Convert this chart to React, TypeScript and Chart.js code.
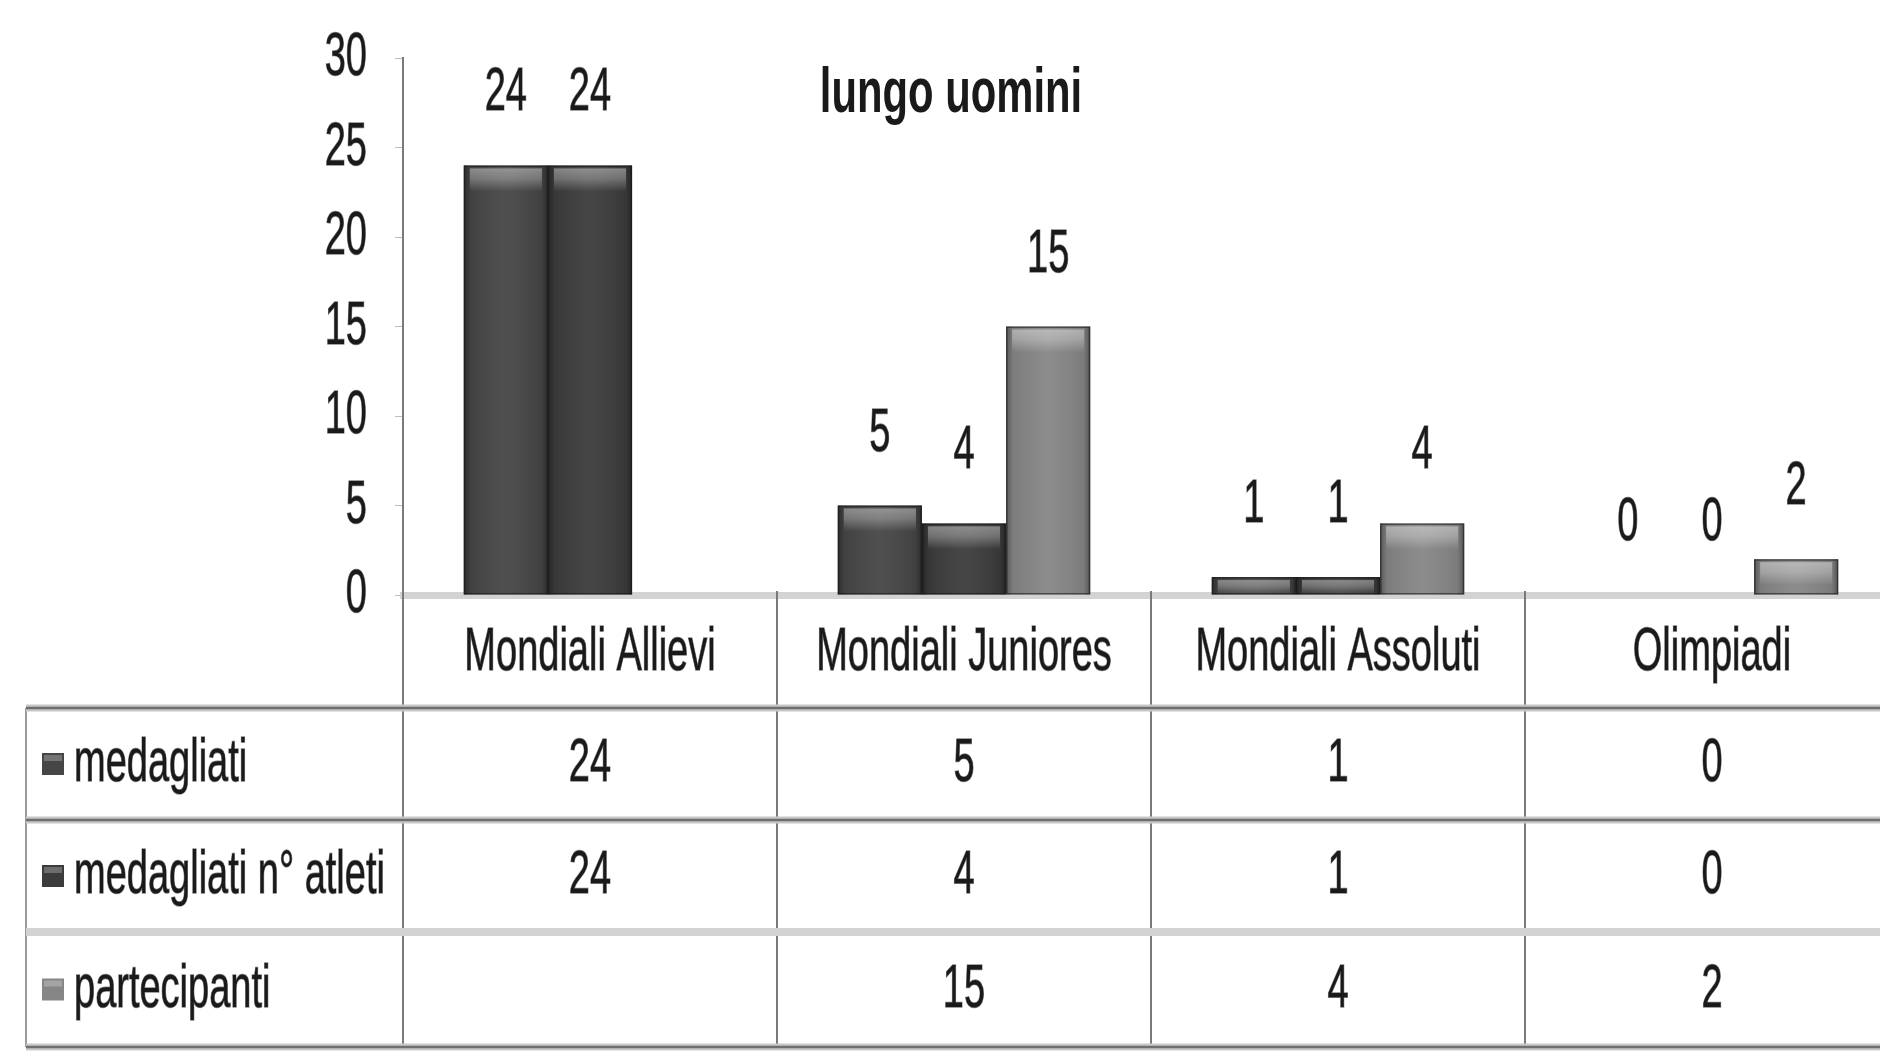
import React, { useEffect, useRef } from "react";
import { Chart, registerables } from "chart.js";

Chart.register(...registerables);

const categories = ["Mondiali Allievi", "Mondiali Juniores", "Mondiali Assoluti", "Olimpiadi"];
const seriesNames = ["medagliati", "medagliati n° atleti", "partecipanti"];
const medagliati = [24, 5, 1, 0];
const medagliatiAtleti = [24, 4, 1, 0];
const partecipanti: (number | null)[] = [null, 15, 4, 2];
const seriesColors = ["#464646", "#3c3c3c", "#868686"];
const chartTitle = "lungo uomini";
const yMin = 0;
const yMax = 30;
const yStep = 5;

const FONT = '"Liberation Sans", Arial, sans-serif';
const SX = 0.95;
const SY = 1.55;
const TEXT_COLOR = "#1a1a1a";

function txt(
  ctx: CanvasRenderingContext2D,
  s: string,
  x: number,
  y: number,
  size: number,
  align: CanvasTextAlign,
  bold = false,
  sy = SY
) {
  ctx.save();
  ctx.translate(x, y);
  ctx.scale(SX, sy);
  ctx.font = `${bold ? "bold " : ""}${size}px ${FONT}`;
  ctx.textAlign = align;
  ctx.textBaseline = "middle";
  ctx.fillStyle = TEXT_COLOR;
  ctx.fillText(s, 0, 0);
  if (!bold) {
    ctx.strokeStyle = "rgba(30,30,30,0.55)";
    ctx.lineWidth = 0.9;
    ctx.strokeText(s, 0, 0);
  }
  ctx.restore();
}

const W = 1905;
const H = 1060;
const PLOT_TOP = 58;
const PLOT_BOTTOM = 595;
const AXIS_X = 403;
const TABLE_LEFT = 26;
const ROW_LINES = [708, 820, 932, 1047];

const decorPlugin = {
  id: "decor",
  afterDatasetsDraw(chart: any) {
    const ctx: CanvasRenderingContext2D = chart.ctx;
    chart.data.datasets.forEach((ds: any, di: number) => {
      const meta = chart.getDatasetMeta(di);
      meta.data.forEach((el: any, i: number) => {
        const v = ds.data[i];
        if (v == null || v === 0) return;
        const { x, y, width, base } = el.getProps(["x", "y", "width", "base"], true);
        const left = x - width / 2;
        const h = base - y;
        const g = ctx.createLinearGradient(left, 0, left + width, 0);
        g.addColorStop(0, "rgba(0,0,0,0.35)");
        g.addColorStop(0.08, "rgba(0,0,0,0.08)");
        g.addColorStop(0.5, "rgba(255,255,255,0.05)");
        g.addColorStop(0.92, "rgba(0,0,0,0.08)");
        g.addColorStop(1, "rgba(0,0,0,0.35)");
        ctx.fillStyle = g;
        ctx.fillRect(left, y, width, h);
        const bh = Math.min(26, h);
        const g2 = ctx.createLinearGradient(0, y, 0, y + bh);
        g2.addColorStop(0, "rgba(255,255,255,0.42)");
        g2.addColorStop(0.5, "rgba(255,255,255,0.28)");
        g2.addColorStop(1, "rgba(255,255,255,0)");
        ctx.fillStyle = g2;
        ctx.fillRect(left + 6, y + 3, width - 12, bh);
        ctx.strokeStyle = "rgba(20,20,20,0.55)";
        ctx.lineWidth = 1.5;
        ctx.strokeRect(left + 0.75, y + 0.75, width - 1.5, h - 1.5);
      });
    });
  },
  afterDraw(chart: any) {
    const ctx: CanvasRenderingContext2D = chart.ctx;
    const xs = chart.scales.x;
    const ys = chart.scales.y;
    const area = chart.chartArea;

    // title
    txt(ctx, chartTitle, 951, 94, 44, "center", true, 1.45);

    // y tick labels
    ys.ticks.forEach((t: any) => {
      const py = ys.getPixelForValue(t.value);
      txt(ctx, String(t.value), area.left - 36, py, 40, "right");
    });

    // data labels
    chart.data.datasets.forEach((ds: any, di: number) => {
      const meta = chart.getDatasetMeta(di);
      meta.data.forEach((el: any, i: number) => {
        const v = ds.data[i];
        if (v == null) return;
        const { x, y } = el.getProps(["x", "y"], true);
        txt(ctx, String(v), x, y - 72, 40, "center");
      });
    });

    // category labels
    const centers = categories.map((_, i) => xs.getPixelForTick(i));
    const step = centers.length > 1 ? centers[1] - centers[0] : area.width;
    centers.forEach((cx, i) => {
      txt(ctx, categories[i], cx, 653, 40, "center");
    });

    // table lines
    ctx.save();
    ctx.strokeStyle = "#7a7a7a";
    ctx.lineWidth = 2;
    for (let i = 0; i <= centers.length; i++) {
      const bx = i === 0 ? area.left : centers[i - 1] + step / 2;
      ctx.beginPath();
      ctx.moveTo(bx, i === 0 ? area.bottom : area.bottom - 4);
      ctx.lineTo(bx, ROW_LINES[ROW_LINES.length - 1]);
      ctx.stroke();
    }
    ctx.strokeStyle = "#9a9a9a";
    ctx.beginPath();
    ctx.moveTo(TABLE_LEFT, ROW_LINES[0]);
    ctx.lineTo(TABLE_LEFT, ROW_LINES[ROW_LINES.length - 1]);
    ctx.stroke();
    ROW_LINES.forEach((ly, i) => {
      if (i === 2) {
        ctx.strokeStyle = "#d2d2d2";
        ctx.lineWidth = 8;
      } else {
        ctx.strokeStyle = "#c8c8c8";
        ctx.lineWidth = 7;
        ctx.beginPath();
        ctx.moveTo(TABLE_LEFT, ly);
        ctx.lineTo(W, ly);
        ctx.stroke();
        ctx.strokeStyle = "#6e6e6e";
        ctx.lineWidth = 2.5;
      }
      ctx.beginPath();
      ctx.moveTo(TABLE_LEFT, ly);
      ctx.lineTo(W, ly);
      ctx.stroke();
    });
    ctx.restore();

    // table rows
    const rows = [medagliati, medagliatiAtleti, partecipanti];
    rows.forEach((vals, r) => {
      const cy = (ROW_LINES[r] + ROW_LINES[r + 1]) / 2;
      const ds = chart.data.datasets[r];
      ctx.save();
      ctx.fillStyle = ds.backgroundColor;
      ctx.fillRect(42, cy - 11, 22, 22);
      ctx.fillStyle = "rgba(255,255,255,0.25)";
      ctx.fillRect(44, cy - 9, 18, 6);
      ctx.restore();
      txt(ctx, seriesNames[r], 74, cy, 40, "left");
      vals.forEach((v, i) => {
        if (v == null) return;
        txt(ctx, String(v), centers[i], cy, 40, "center");
      });
    });
  },
};

export default function App() {
  const ref = useRef<HTMLCanvasElement | null>(null);
  useEffect(() => {
    if (!ref.current) return;
    const chart = new Chart(ref.current, {
      type: "bar",
      data: {
        labels: categories,
        datasets: [
          { label: seriesNames[0], data: medagliati, backgroundColor: seriesColors[0] },
          { label: seriesNames[1], data: medagliatiAtleti, backgroundColor: seriesColors[1] },
          { label: seriesNames[2], data: partecipanti, backgroundColor: seriesColors[2] },
        ],
      },
      options: {
        animation: false,
        responsive: false,
        maintainAspectRatio: false,
        layout: { padding: { top: PLOT_TOP, left: 0, right: 6, bottom: 0 } },
        datasets: { bar: { categoryPercentage: 0.675, barPercentage: 1, borderWidth: 0 } },
        plugins: {
          legend: { display: false },
          title: { display: false },
          tooltip: { enabled: false },
        },
        scales: {
          x: {
            grid: { display: false },
            border: { display: true, color: "#d3d3d3", width: 7 },
            ticks: { display: false },
            afterFit: (s: any) => {
              s.height = H - PLOT_BOTTOM;
            },
          },
          y: {
            min: yMin,
            max: yMax,
            ticks: { display: false, stepSize: yStep },
            grid: { drawOnChartArea: false, drawTicks: true, tickLength: 8, color: "#bdbdbd" },
            border: { display: true, color: "#7a7a7a", width: 2 },
            afterFit: (s: any) => {
              s.width = AXIS_X;
            },
          },
        },
      },
      plugins: [decorPlugin],
    } as any);
    return () => chart.destroy();
  }, []);
  return (
    <div
      style={{
        position: "fixed",
        left: 0,
        top: 0,
        width: 1880,
        height: 1060,
        overflow: "hidden",
        background: "#fff",
      }}
    >
      <canvas ref={ref} width={W} height={H} style={{ display: "block", width: W, height: H }} />
    </div>
  );
}
